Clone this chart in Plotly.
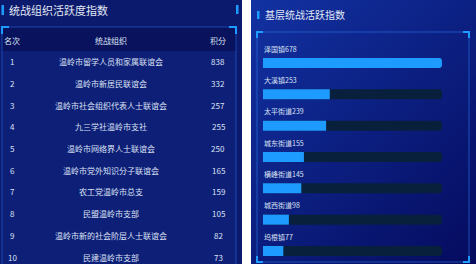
import plotly.graph_objects as go

W, H = 476, 264

# ---------------- data ----------------
left_title = "统战组织活跃度指数"
table_headers = ["名次", "统战组织", "积分"]
ranks = [1, 2, 3, 4, 5, 6, 7, 8, 9, 10]
orgs = [
    "温岭市留学人员和家属联谊会",
    "温岭市新居民联谊会",
    "温岭市社会组织代表人士联谊会",
    "九三学社温岭市支社",
    "温岭市网络界人士联谊会",
    "温岭市党外知识分子联谊会",
    "农工党温岭市总支",
    "民盟温岭市支部",
    "温岭市新的社会阶层人士联谊会",
    "民建温岭市支部",
]
scores = [838, 332, 257, 255, 250, 165, 159, 105, 82, 73]

right_title = "基层统战活跃指数"
towns = ["泽国镇", "大溪镇", "太平街道", "城东街道", "横峰街道", "城西街道", "坞根镇"]
town_values = [678, 253, 239, 155, 145, 98, 77]

# ---------------- styles ----------------
FONT = "Noto Sans CJK SC"
TXT = "#dbe2f4"
CYAN = "#1e9bff"
LEFT_BG = "#0b1a6c"
HEAD_BG = "#09125c"
ROW_BG = "#0e1f78"
TRACK = "#08203c"

ROW_PX = 21.7     # pixel height of one table row
HEAD_PX = 40      # pixel y of header row centre


def px(x):
    return x / W


def py(y):
    return 1 - y / H


fig = go.Figure()

# gradient background for right panel (decorative)
fig.add_trace(go.Heatmap(
    x=[0, 1], y=[0, 1], z=[[0.55, 1.0], [0.0, 0.45]],
    colorscale=[[0, "#1232a2"], [1, "#050b5e"]],
    zsmooth="best", showscale=False, hoverinfo="skip",
    xaxis="x2", yaxis="y2",
))

# right bar chart
n = len(towns)
idx = list(range(n))
vmax = max(town_values)
fig.add_trace(go.Bar(
    x=[vmax] * n, y=idx, orientation="h", width=0.32,
    marker=dict(color=TRACK, cornerradius=3, line=dict(width=0)),
    xaxis="x3", yaxis="y3", hoverinfo="skip",
))
fig.add_trace(go.Bar(
    x=town_values, y=idx, orientation="h", width=0.32,
    marker=dict(color=CYAN, cornerradius=3, line=dict(width=0)),
    xaxis="x3", yaxis="y3",
))

# dummy trace for table axes
fig.add_trace(go.Scatter(x=[0], y=[0], mode="markers", marker=dict(opacity=0),
                         xaxis="x", yaxis="y", hoverinfo="skip"))

annotations = []
COLS = [12, 111, 218]
for cx, h in zip(COLS, table_headers):
    annotations.append(dict(x=cx, y=0, xref="x", yref="y", text=h, showarrow=False,
                            xanchor="center", yanchor="middle",
                            font=dict(family=FONT, size=8, color=TXT)))
for r, o, s in zip(ranks, orgs, scores):
    for cx, t in zip(COLS, [str(r), o, str(s)]):
        annotations.append(dict(x=cx, y=r, xref="x", yref="y", text=t, showarrow=False,
                                xanchor="center", yanchor="middle",
                                font=dict(family=FONT, size=8, color=TXT)))

# bar labels
for i, (t, v) in enumerate(zip(towns, town_values)):
    annotations.append(dict(x=0, y=i - 0.46, xref="x3", yref="y3", text=f"{t}{v}",
                            showarrow=False, xanchor="left", yanchor="middle", xshift=-1,
                            font=dict(family=FONT, size=7, color=TXT)))

# titles
annotations.append(dict(x=px(7), y=py(10), xref="paper", yref="paper", text=left_title,
                        showarrow=False, xanchor="left", yanchor="middle",
                        font=dict(family=FONT, size=11, color="#e2e8f6")))
annotations.append(dict(x=px(263), y=py(15), xref="paper", yref="paper", text=right_title,
                        showarrow=False, xanchor="left", yanchor="middle",
                        font=dict(family=FONT, size=10, color="#e2e8f6")))

shapes = []


def rect(x0, y0, x1, y1, fill, layer="below", line=None):
    shapes.append(dict(type="rect", xref="paper", yref="paper",
                       x0=px(x0), x1=px(x1), y0=py(y1), y1=py(y0),
                       fillcolor=fill, line=line or dict(width=0), layer=layer))


def path(pts, color, width=2):
    d = "M " + " L ".join(f"{px(a)},{py(b)}" for a, b in pts)
    shapes.append(dict(type="path", xref="paper", yref="paper", path=d,
                       line=dict(color=color, width=width), layer="above"))


# left panel
rect(0, 0, 242, 264, LEFT_BG)
rect(2, 27, 236, 51, HEAD_BG)
rect(2, 51, 236, 264, ROW_BG)
rect(2, 27, 236, 266, "rgba(0,0,0,0)", layer="above",
     line=dict(color="rgba(40,110,230,0.55)", width=1))
path([(2, 34), (2, 27), (9, 27)], CYAN)
path([(229, 27), (236, 27), (236, 34)], CYAN)
rect(1.5, 5, 4, 15, CYAN, layer="above")
rect(236, 5, 238.5, 14, CYAN, layer="above")

# right panel frame
rect(257, 32, 469, 262, "rgba(0,0,0,0)", layer="above",
     line=dict(color="rgba(40,120,230,0.6)", width=1))
path([(257, 38), (257, 32), (263, 32)], CYAN)
path([(463, 32), (469, 32), (469, 38)], CYAN)
path([(257, 256), (257, 262), (263, 262)], CYAN)
path([(463, 262), (469, 262), (469, 256)], CYAN)
rect(257, 11, 259.5, 19, CYAN, layer="above")

ax_off = dict(visible=False, fixedrange=True, showgrid=False, zeroline=False)

top_val = -HEAD_PX / ROW_PX
fig.update_layout(
    width=W, height=H,
    margin=dict(l=0, r=0, t=0, b=0),
    paper_bgcolor="white",
    plot_bgcolor="rgba(0,0,0,0)",
    showlegend=False,
    barmode="overlay",
    annotations=annotations,
    shapes=shapes,
    xaxis=dict(domain=[0, px(242)], range=[0, 242], **ax_off),
    yaxis=dict(domain=[0, 1], range=[top_val + H / ROW_PX, top_val], **ax_off),
    xaxis2=dict(domain=[px(251), 1], range=[0, 1], anchor="y2", **ax_off),
    yaxis2=dict(domain=[0, 1], range=[0, 1], anchor="x2", **ax_off),
    xaxis3=dict(domain=[px(263), px(442)], range=[0, vmax], anchor="y3", **ax_off),
    yaxis3=dict(domain=[0, 1], range=[-63 / 31.33 + H / 31.33, -63 / 31.33], anchor="x3", **ax_off),
)

fig.write_html("out.html")
